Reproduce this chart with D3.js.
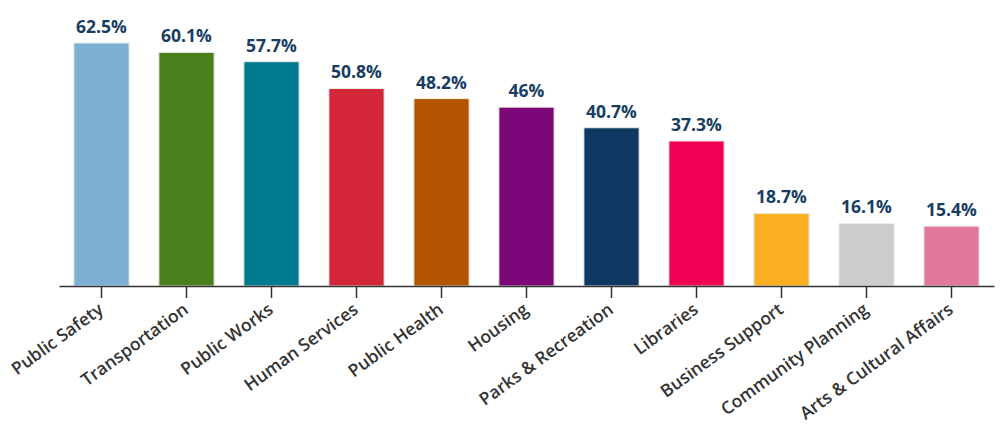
<!DOCTYPE html>
<html><head><meta charset="utf-8">
<script src="https://cdn.jsdelivr.net/npm/d3@7"></script>
<style>body{margin:0;background:#fff}</style>
</head><body>
<svg id="chart" width="1000" height="429"></svg>
<script>
const categories = ["Public Safety","Transportation","Public Works","Human Services","Public Health","Housing","Parks & Recreation","Libraries","Business Support","Community Planning","Arts & Cultural Affairs"];
const values = [62.5,60.1,57.7,50.8,48.2,46,40.7,37.3,18.7,16.1,15.4];
const labels = ["62.5%","60.1%","57.7%","50.8%","48.2%","46%","40.7%","37.3%","18.7%","16.1%","15.4%"];
const colors = ["#7bafd4","#4b7f1c","#007a8e","#d32638","#b35500","#7c0779","#0f3963","#ef0055","#fbb022","#cccccc","#e0789c"];

const svg = d3.select("#chart");
const x = d3.scaleBand().domain(categories).range([59, 994]).paddingInner(0.35).paddingOuter(0.175);
const y = d3.scaleLinear().domain([0, 62.5]).range([286, 43]);

svg.append("g").selectAll("rect").data(categories).join("rect")
  .attr("x", d => x(d)).attr("width", x.bandwidth())
  .attr("y", (d,i) => y(values[i])).attr("height", (d,i) => y(0) - y(values[i]))
  .attr("fill", (d,i) => colors[i])
  .attr("stroke", "#e8f0e8").attr("stroke-width", 1);

svg.append("g").selectAll("text").data(categories).join("text")
  .attr("x", d => x(d) + x.bandwidth()/2)
  .attr("y", (d,i) => y(values[i]) - 10)
  .attr("text-anchor", "middle")
  .attr("font-family", "Open Sans, sans-serif").attr("font-weight", 700).attr("font-size", 17.5)
  .attr("fill", "#173d63")
  .text((d,i) => labels[i]);

const ax = svg.append("g").attr("transform", "translate(0,286)")
  .call(d3.axisBottom(x).tickSize(12).tickSizeOuter(0));
ax.select(".domain").attr("stroke", "#333").attr("stroke-width", 1.5);
ax.selectAll(".tick line").attr("stroke", "#333").attr("stroke-width", 1.5);
ax.selectAll(".tick text")
  .attr("font-family", "Open Sans, sans-serif").attr("font-weight", 600).attr("font-size", 17.5)
  .attr("fill", "#333")
  .attr("text-anchor", "end")
  .attr("dx", 0).attr("dy", 0).attr("y", 0).attr("x", 0)
  .attr("transform", "translate(3,26) rotate(-36)");
</script>
</body></html>
